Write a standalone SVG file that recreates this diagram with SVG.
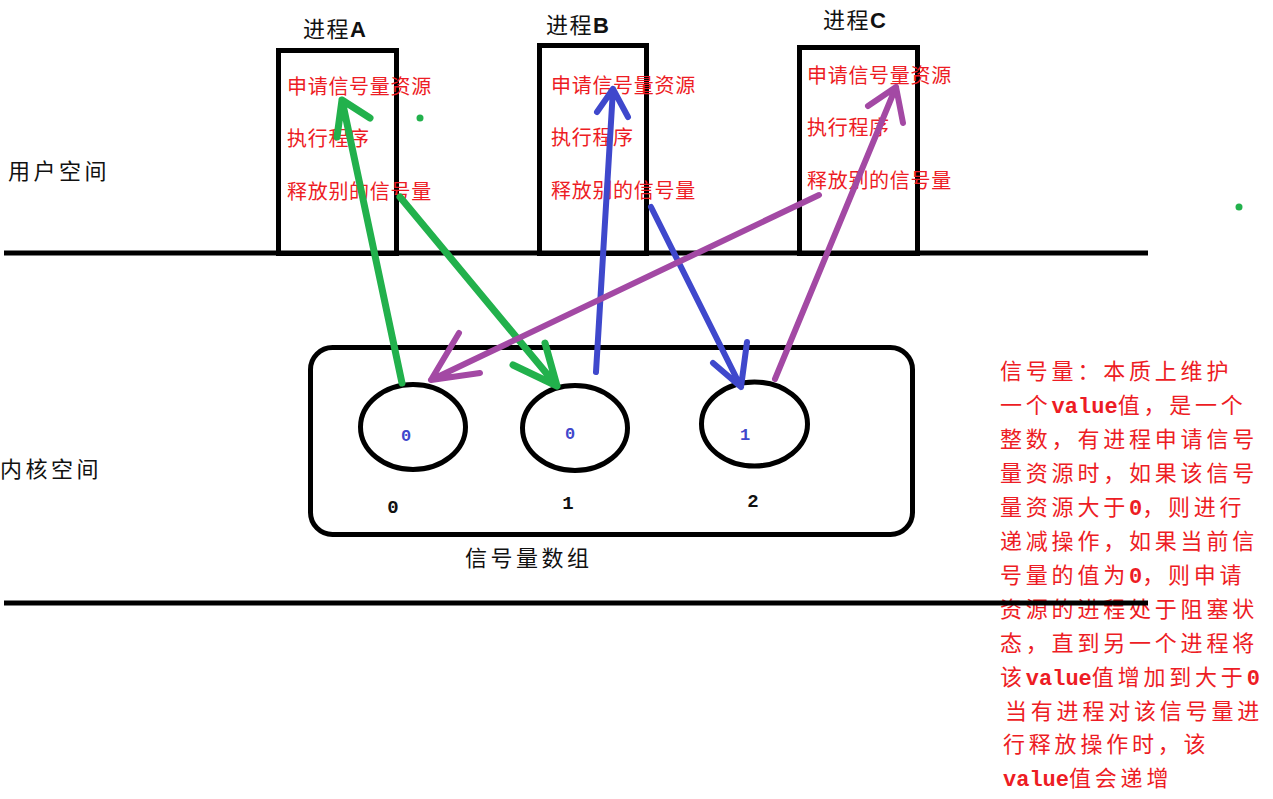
<svg xmlns="http://www.w3.org/2000/svg" width="1273" height="799" viewBox="0 0 1273 799">
<style>
.box{fill:none;stroke:#000;stroke-width:5}
.cjk{font-family:"Noto Sans CJK SC","Liberation Sans",sans-serif}
.red{fill:#ed1c24;font-size:20px;letter-spacing:0.7px}
.title{fill:#111;font-size:22px;letter-spacing:1.5px}
.side{fill:#111;font-size:22px;letter-spacing:3.5px}
.note{fill:#ed1c24;font-size:22px;letter-spacing:3.8px}
.mono{font-family:"Liberation Mono","DejaVu Sans Mono",monospace;font-weight:bold;letter-spacing:0}
.lat{font-family:"Liberation Sans",sans-serif;font-weight:bold;letter-spacing:0}
.val{fill:#3f48cc;font-size:17px;text-anchor:middle}
.idx{fill:#111;font-size:19px;text-anchor:middle}
.g{stroke:#22b14c;stroke-width:7;fill:none;stroke-linecap:round;stroke-linejoin:round}
.b{stroke:#3f48cc;stroke-width:6;fill:none;stroke-linecap:round;stroke-linejoin:round}
.p{stroke:#a349a4;stroke-width:6;fill:none;stroke-linecap:round;stroke-linejoin:round}
</style>
<rect width="1273" height="799" fill="#fff"/>

<g id="user-space-label"><text class="cjk side" x="8" y="179">用户空间</text></g>
<g id="kernel-space-label"><text class="cjk side" x="0" y="477">内核空间</text></g>

<g id="processA">
<text class="cjk title" x="303" y="37">进程<tspan class="lat">A</tspan></text>
<rect class="box" x="278.5" y="50.5" width="118" height="203"/>
<text class="cjk red" x="287" y="94">申请信号量资源</text>
<text class="cjk red" x="287" y="146">执行程序</text>
<text class="cjk red" x="287" y="199">释放别的信号量</text>
</g>

<g id="processB">
<text class="cjk title" x="546" y="33">进程<tspan class="lat">B</tspan></text>
<rect class="box" x="539.5" y="45.5" width="107" height="208"/>
<text class="cjk red" x="551" y="93">申请信号量资源</text>
<text class="cjk red" x="551" y="145">执行程序</text>
<text class="cjk red" x="551" y="198">释放别的信号量</text>
</g>

<g id="processC">
<text class="cjk title" x="823" y="28">进程<tspan class="lat">C</tspan></text>
<rect class="box" x="799.5" y="47.5" width="118" height="206"/>
<text class="cjk red" x="807" y="83">申请信号量资源</text>
<text class="cjk red" x="807" y="135">执行程序</text>
<text class="cjk red" x="807" y="188">释放别的信号量</text>
</g>

<g id="dots">
<circle cx="420" cy="118" r="3.5" fill="#22b14c"/>
<circle cx="1239" cy="207" r="3.5" fill="#22b14c"/>
</g>

<g id="semaphore-array">
<rect class="box" x="310.5" y="347.5" width="602" height="187" rx="22" ry="22"/>
<text class="cjk side" x="465" y="566">信号量数组</text>
</g>

<g id="sem0">
<ellipse class="box" cx="413" cy="427" rx="52.5" ry="42.5"/>
<text class="mono val" x="406" y="441">0</text>
<text class="mono idx" x="393" y="513">0</text>
</g>
<g id="sem1">
<ellipse class="box" cx="575" cy="428" rx="52.5" ry="42.5"/>
<text class="mono val" x="570" y="439">0</text>
<text class="mono idx" x="568" y="509">1</text>
</g>
<g id="sem2">
<ellipse class="box" cx="754.5" cy="424" rx="53" ry="42"/>
<text class="mono val" x="745" y="440">1</text>
<text class="mono idx" x="753" y="507">2</text>
</g>

<g id="note">
<text class="cjk note" x="1000" y="379">信号量：本质上维护</text>
<text class="cjk note" x="1000" y="413">一个<tspan class="mono">value</tspan>值，是一个</text>
<text class="cjk note" x="1000" y="447">整数，有进程申请信号</text>
<text class="cjk note" x="1000" y="481">量资源时，如果该信号</text>
<text class="cjk note" x="1000" y="515">量资源大于<tspan class="mono">0</tspan>，则进行</text>
<text class="cjk note" x="1000" y="549">递减操作，如果当前信</text>
<text class="cjk note" x="1000" y="583">号量的值为<tspan class="mono">0</tspan>，则申请</text>
<text class="cjk note" x="1000" y="617">资源的进程处于阻塞状</text>
<text class="cjk note" x="1000" y="651">态，直到另一个进程将</text>
<text class="cjk note" x="1000" y="685">该<tspan class="mono">value</tspan>值增加到大于<tspan class="mono">0</tspan></text>
<text class="cjk note" x="1005" y="719">当有进程对该信号量进</text>
<text class="cjk note" x="1003" y="752">行释放操作时，该</text>
<text class="cjk note" x="1003" y="786"><tspan class="mono">value</tspan>值会递增</text>
</g>

<g id="boundaries">
<line x1="4" y1="253" x2="1148" y2="253" stroke="#000" stroke-width="5"/>
<line x1="4" y1="603" x2="1148" y2="603" stroke="#000" stroke-width="5"/>
</g>

<g id="connectors">
<path class="g" d="M402 383 L342 100 M337 137 L342 100 L370 118"/>
<path class="g" d="M400 197 L557 386 M545 343 L557 386 L513 365"/>
<path class="b" d="M596 372 L613 89 M597 112 L613 89 L628 117"/>
<path class="b" d="M651 207 L741 387 M747 342 L741 387 L713 363"/>
<path class="p" d="M819 195 L431 380 M459 333 L431 380 L480 373"/>
<path class="p" d="M775 379 L896 87 M868 106 L896 87 L903 123"/>
</g>
</svg>
